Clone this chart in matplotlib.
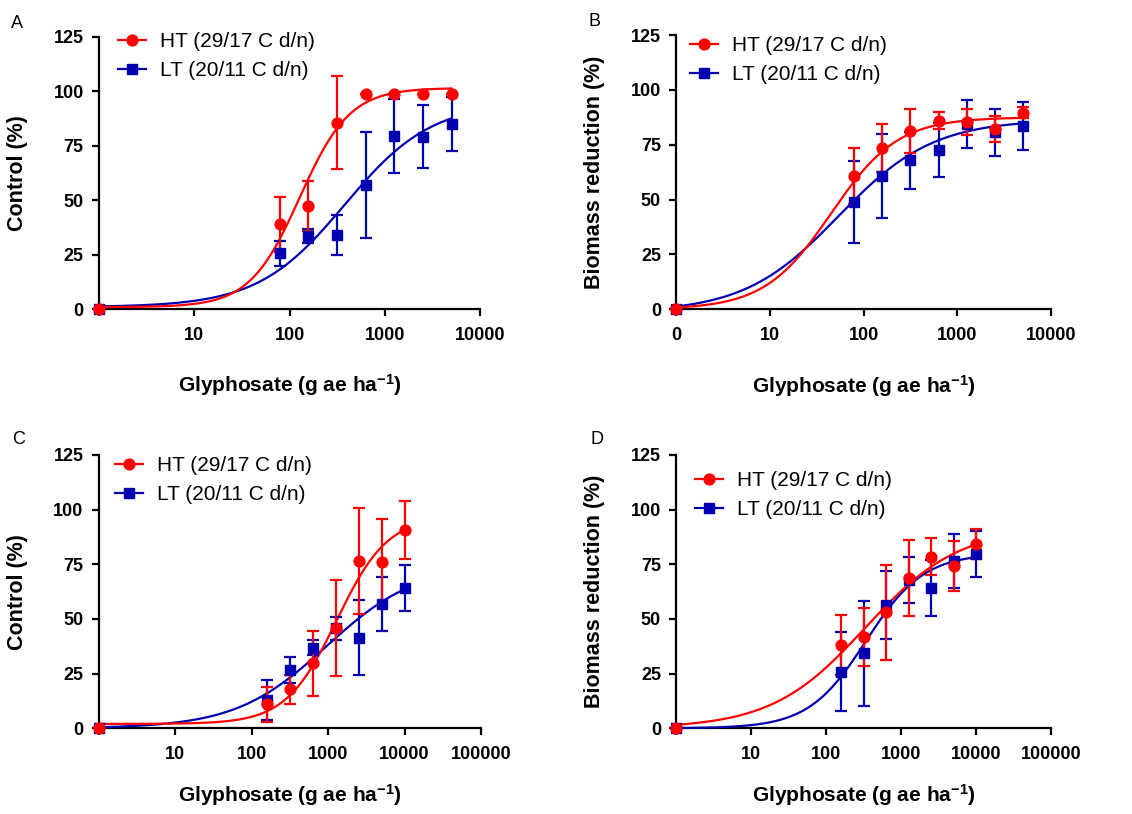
import numpy as np
import matplotlib
matplotlib.use('Agg')
import matplotlib.pyplot as plt
from matplotlib.lines import Line2D

plt.rcParams['font.family'] = ['Liberation Sans', 'DejaVu Sans']
plt.rcParams['mathtext.fontset'] = 'custom'
plt.rcParams['mathtext.rm'] = 'Liberation Sans:bold'
plt.rcParams['mathtext.bf'] = 'Liberation Sans:bold'
plt.rcParams['mathtext.default'] = 'bf'

RED = '#FF0000'
BLUE = '#0000B0'

# doses (g ae/ha), 0 is drawn at the left edge (x=1)
doses_ab = [0, 78.75, 157.5, 315, 630, 1260, 2520, 5040]
doses_cd = [0, 157.5, 315, 630, 1260, 2520, 5040, 10080]

# panel A - control (%)
a_ht = [0, 39.0, 47.4, 85.6, 98.6, 98.6, 98.6, 98.6]
a_ht_err = [0, 12.7, 11.4, 21.4, 0, 0, 0, 0]
a_lt = [0, 25.7, 33.8, 33.9, 57.0, 79.5, 79.2, 85.0]
a_lt_err = [0, 5.8, 3.2, 9.2, 24.4, 16.8, 14.5, 12.2]
# fitted curves: bottom, top, ED50, slope
a_ht_fit = [1.0, 101.5, 128, 1.65]
a_lt_fit = [1.0, 95.0, 380, 0.95]

# panel B - biomass reduction (%)
b_ht = [0, 60.8, 73.4, 81.3, 86.0, 85.5, 82.2, 89.6]
b_ht_err = [0, 12.7, 11.0, 10.0, 3.8, 6.0, 6.0, 2.5]
b_lt = [0, 49.0, 60.8, 68.0, 72.6, 84.4, 80.6, 83.5]
b_lt_err = [0, 18.7, 19.0, 13.0, 12.2, 10.8, 10.8, 11.0]
b_ht_fit = [0.0, 87.5, 45, 1.22]
b_lt_fit = [-1.5, 86.5, 54, 0.86]

# panel C - control (%)
c_ht = [0, 11.1, 17.8, 29.7, 45.7, 76.7, 76.2, 90.7]
c_ht_err = [0, 8.0, 6.5, 15.0, 22.0, 24.2, 19.7, 13.4]
c_lt = [0, 13.0, 26.7, 36.9, 45.7, 41.5, 56.9, 64.3]
c_lt_err = [0, 9.0, 5.8, 3.5, 5.3, 17.0, 12.5, 10.5]
c_ht_fit = [2.0, 97.0, 1300, 1.3]
c_lt_fit = [0.0, 75.0, 950, 0.73]

# panel D - biomass reduction (%)
d_ht = [0, 38.1, 41.9, 53.0, 68.6, 78.5, 74.4, 84.3]
d_ht_err = [0, 13.5, 13.3, 21.7, 17.4, 8.4, 11.4, 7.0]
d_lt = [0, 25.9, 34.3, 56.4, 67.8, 64.0, 76.5, 79.6]
d_lt_err = [0, 18.0, 24.0, 15.7, 10.5, 12.8, 12.2, 10.5]
d_ht_fit = [0.0, 92.0, 333, 0.695]
d_lt_fit = [0.0, 80.0, 341, 1.128]

legend_labels = ['HT (29/17 C d/n)', 'LT (20/11 C d/n)']
xlabel = r'Glyphosate (g ae ha$^{-1}$)'


def loglogistic(x, p):
    bottom, top, ed50, slope = p
    return bottom + (top - bottom) / (1 + (ed50 / x) ** slope)


def draw_panel(ax, doses, ht, ht_err, lt, lt_err, ht_fit, lt_fit,
               xmax, xticklabels, ylabel, leg_xy, ylab_x, xlab_y):
    d = np.array(doses, dtype=float)
    d[d == 0] = 1.0
    xs = np.logspace(0, np.log10(d.max()), 400)

    for vals, errs, fit, col, mk, ms in [
            (lt, lt_err, lt_fit, BLUE, 's', 6.6),
            (ht, ht_err, ht_fit, RED, 'o', 7.8)]:
        ax.plot(xs, np.clip(loglogistic(xs, fit), 0, None), color=col, lw=1.6,
                clip_on=False, zorder=3)
        ax.errorbar(d, vals, yerr=errs, fmt=mk, color=col, ms=ms, ecolor=col,
                    elinewidth=1.6, capsize=4, capthick=1.6, clip_on=False, zorder=4)

    ax.set_xscale('log')
    ax.set_xlim(1, xmax)
    ax.set_ylim(0, 125)
    ticks = [10 ** i for i in range(len(xticklabels))]
    ax.set_xticks(ticks)
    ax.set_xticklabels(xticklabels)
    ax.xaxis.set_minor_locator(matplotlib.ticker.NullLocator())
    ax.set_yticks([0, 25, 50, 75, 100, 125])
    for s in ['top', 'right']:
        ax.spines[s].set_visible(False)
    for s in ['left', 'bottom']:
        ax.spines[s].set_linewidth(1.6)
    ax.tick_params(direction='out', length=5, width=1.6, labelsize=13)
    ax.tick_params(axis='x', pad=8)
    ax.tick_params(axis='y', pad=6)
    for lab in ax.get_xticklabels() + ax.get_yticklabels():
        lab.set_fontweight('bold')

    ax.set_ylabel(ylabel, fontsize=15.5, fontweight='bold')
    ax.yaxis.set_label_coords(ylab_x, 0.5)
    ax.set_xlabel(xlabel, fontsize=15, fontweight='bold', va='top')
    ax.xaxis.set_label_coords(0.5, xlab_y)

    handles = [Line2D([], [], color=RED, marker='o', ms=7.8, lw=1.6),
               Line2D([], [], color=BLUE, marker='s', ms=6.6, lw=1.6)]
    ax.legend(handles, legend_labels, loc='upper left', bbox_to_anchor=leg_xy,
              frameon=False, fontsize=15, borderpad=0, borderaxespad=0,
              handlelength=1.35, handletextpad=0.65, labelspacing=0.5)


fig = plt.figure(figsize=(11.32, 8.14), dpi=100)
W, H = 1132.0, 814.0


def add_axes(x0, x1, ytop, ybot):
    return fig.add_axes([x0 / W, 1 - ybot / H, (x1 - x0) / W, (ybot - ytop) / H])


axA = add_axes(99, 480, 36.7, 309.3)
axB = add_axes(676.3, 1051, 35, 309.3)
axC = add_axes(98.7, 481, 455, 728.3)
axD = add_axes(676.3, 1051, 455, 728.3)

draw_panel(axA, doses_ab, a_ht, a_ht_err, a_lt, a_lt_err, a_ht_fit, a_lt_fit,
           1e4, ['', '10', '100', '1000', '10000'], 'Control (%)',
           (0.05, 1.018), -0.186, -0.232)
draw_panel(axB, doses_ab, b_ht, b_ht_err, b_lt, b_lt_err, b_ht_fit, b_lt_fit,
           1e4, ['0', '10', '100', '1000', '10000'], 'Biomass reduction (%)',
           (0.037, 0.997), -0.19, -0.232)
draw_panel(axC, doses_cd, c_ht, c_ht_err, c_lt, c_lt_err, c_ht_fit, c_lt_fit,
           1e5, ['', '10', '100', '1000', '10000', '100000'], 'Control (%)',
           (0.043, 0.997), -0.184, -0.197)
draw_panel(axD, doses_cd, d_ht, d_ht_err, d_lt, d_lt_err, d_ht_fit, d_lt_fit,
           1e5, ['', '10', '100', '1000', '10000', '100000'], 'Biomass reduction (%)',
           (0.05, 0.942), -0.19, -0.197)

for letter, px, py in [('A', 11, 23), ('B', 589, 22), ('C', 12, 440), ('D', 591, 440)]:
    fig.text(px / W, 1 - py / H, letter, fontsize=13, ha='left', va='center')

fig.savefig('out.png', dpi=100)
